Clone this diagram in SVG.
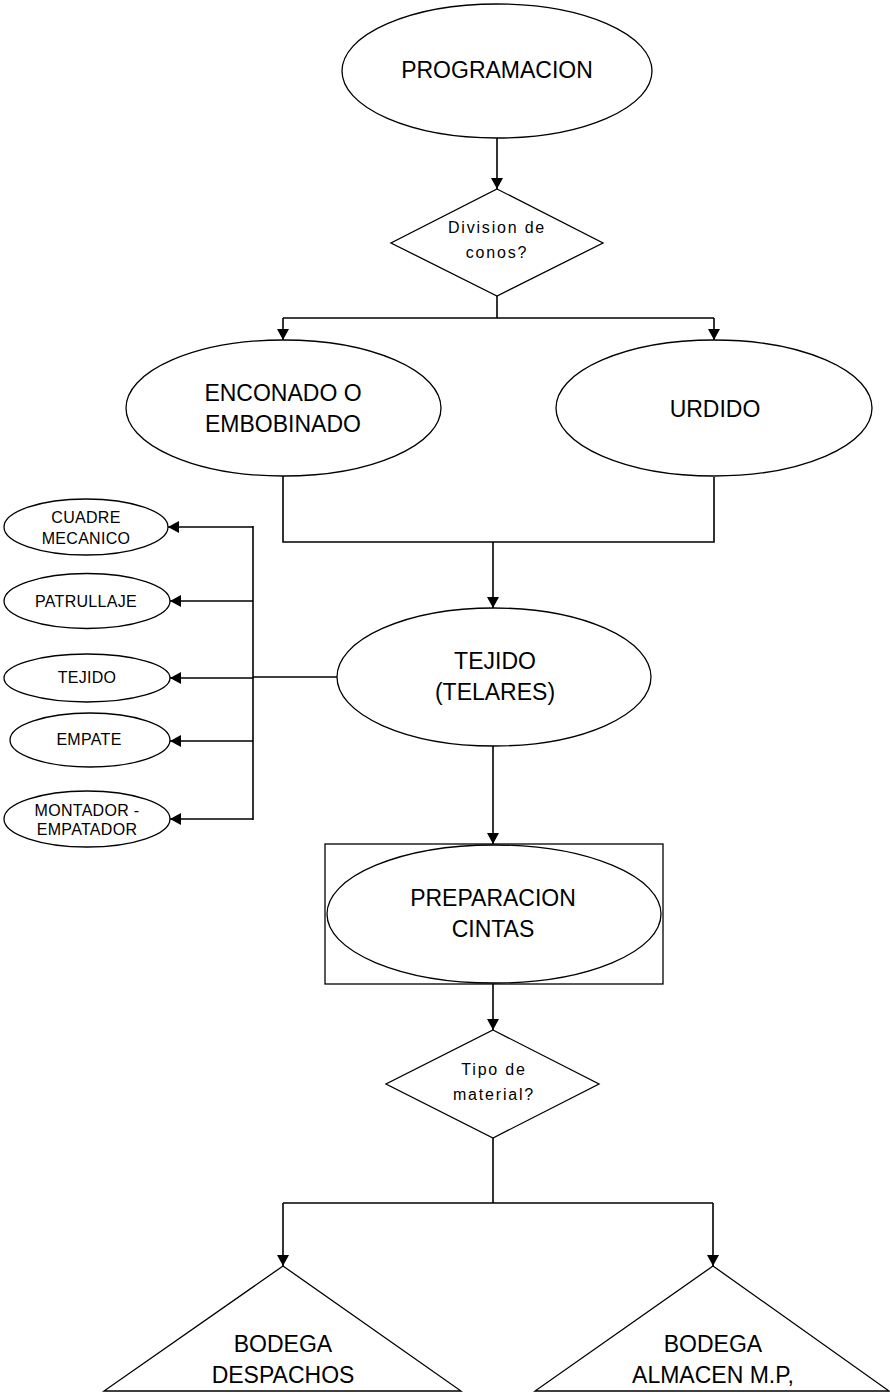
<svg xmlns="http://www.w3.org/2000/svg" width="890" height="1393" viewBox="0 0 890 1393">
  <style>
    .shape { fill: #ffffff; stroke: #000000; stroke-width: 1.3; }
    .conn { fill: none; stroke: #000000; stroke-width: 1.6; }
    .big { font-family: "Liberation Sans", Arial, sans-serif; font-size: 23px; fill: #000000; text-anchor: middle; }
    .mid { font-family: "Liberation Sans", Arial, sans-serif; font-size: 16px; letter-spacing: 1.8px; fill: #000000; text-anchor: middle; }
    .small { font-family: "Liberation Sans", Arial, sans-serif; font-size: 16px; letter-spacing: 0.3px; fill: #000000; text-anchor: middle; }
  </style>
  <defs>
    <marker id="arrow" markerUnits="userSpaceOnUse" markerWidth="14" markerHeight="14" refX="11" refY="6" orient="auto">
      <path d="M0,0 L11,6 L0,12 Z" fill="#000000"/>
    </marker>
  </defs>
  <rect width="890" height="1393" fill="#ffffff"/>

  <!-- connectors -->
  <g id="connectors">
    <line class="conn" x1="497" y1="138" x2="497" y2="189" marker-end="url(#arrow)"/>
    <polyline class="conn" points="497,296 497,318"/>
    <polyline class="conn" points="283,318 714,318"/>
    <line class="conn" x1="283" y1="318" x2="283" y2="340" marker-end="url(#arrow)"/>
    <line class="conn" x1="714" y1="318" x2="714" y2="340" marker-end="url(#arrow)"/>
    <polyline class="conn" points="283,476 283,542 714,542 714,477"/>
    <line class="conn" x1="493" y1="542" x2="493" y2="608" marker-end="url(#arrow)"/>
    <polyline class="conn" points="337,677 253,677"/>
    <polyline class="conn" points="253,526 253,820"/>
    <line class="conn" x1="253" y1="527" x2="168" y2="527" marker-end="url(#arrow)"/>
    <line class="conn" x1="253" y1="601" x2="170" y2="601" marker-end="url(#arrow)"/>
    <line class="conn" x1="253" y1="678" x2="170" y2="678" marker-end="url(#arrow)"/>
    <line class="conn" x1="253" y1="741" x2="170" y2="741" marker-end="url(#arrow)"/>
    <line class="conn" x1="253" y1="819" x2="170" y2="819" marker-end="url(#arrow)"/>
    <line class="conn" x1="493" y1="746" x2="493" y2="844" marker-end="url(#arrow)"/>
    <line class="conn" x1="493" y1="984" x2="493" y2="1030" marker-end="url(#arrow)"/>
    <polyline class="conn" points="493,1138 493,1203"/>
    <polyline class="conn" points="283,1203 713,1203"/>
    <line class="conn" x1="283" y1="1203" x2="283" y2="1266" marker-end="url(#arrow)"/>
    <line class="conn" x1="713" y1="1203" x2="713" y2="1266" marker-end="url(#arrow)"/>
  </g>

  <g id="programacion">
    <ellipse class="shape" cx="497" cy="71" rx="155" ry="67"/>
    <text class="big" x="497" y="78">PROGRAMACION</text>
  </g>

  <g id="division-conos">
    <polygon class="shape" points="497,189 603,243 497,296 391,243"/>
    <text class="mid" x="497" y="233">Division de</text>
    <text class="mid" x="497" y="258">conos?</text>
  </g>

  <g id="enconado">
    <ellipse class="shape" cx="283.5" cy="408" rx="157.5" ry="68"/>
    <text class="big" x="283" y="401">ENCONADO O</text>
    <text class="big" x="283" y="432">EMBOBINADO</text>
  </g>

  <g id="urdido">
    <ellipse class="shape" cx="714" cy="408" rx="158" ry="68"/>
    <text class="big" x="715" y="417">URDIDO</text>
  </g>

  <g id="tejido-telares">
    <ellipse class="shape" cx="494" cy="677" rx="157" ry="69"/>
    <text class="big" x="495" y="669">TEJIDO</text>
    <text class="big" x="495" y="700">(TELARES)</text>
  </g>

  <g id="cuadre-mecanico">
    <ellipse class="shape" cx="86" cy="527" rx="82" ry="28"/>
    <text class="small" x="86" y="523">CUADRE</text>
    <text class="small" x="86" y="544">MECANICO</text>
  </g>

  <g id="patrullaje">
    <ellipse class="shape" cx="87" cy="601" rx="83" ry="27.5"/>
    <text class="small" x="86" y="607">PATRULLAJE</text>
  </g>

  <g id="tejido">
    <ellipse class="shape" cx="87" cy="678" rx="83" ry="24"/>
    <text class="small" x="87" y="683">TEJIDO</text>
  </g>

  <g id="empate">
    <ellipse class="shape" cx="90" cy="740" rx="80" ry="27"/>
    <text class="small" x="89" y="745">EMPATE</text>
  </g>

  <g id="montador-empatador">
    <ellipse class="shape" cx="87" cy="819" rx="83" ry="28"/>
    <text class="small" x="87" y="816">MONTADOR -</text>
    <text class="small" x="87" y="835">EMPATADOR</text>
  </g>

  <g id="preparacion-cintas">
    <rect class="shape" x="325" y="844" width="338" height="140"/>
    <ellipse class="shape" cx="494" cy="914" rx="167" ry="69"/>
    <text class="big" x="493" y="906">PREPARACION</text>
    <text class="big" x="493" y="937">CINTAS</text>
  </g>

  <g id="tipo-material">
    <polygon class="shape" points="493,1030 599,1084 493,1138 386,1084"/>
    <text class="mid" x="494" y="1075">Tipo de</text>
    <text class="mid" x="494" y="1100">material?</text>
  </g>

  <g id="bodega-despachos">
    <polygon class="shape" points="283,1266 461,1391 104,1391"/>
    <text class="big" x="283" y="1352">BODEGA</text>
    <text class="big" x="283" y="1383">DESPACHOS</text>
  </g>

  <g id="bodega-almacen">
    <polygon class="shape" points="713,1266 889,1391 535,1391"/>
    <text class="big" x="713" y="1352">BODEGA</text>
    <text class="big" x="713" y="1383">ALMACEN M.P,</text>
  </g>
</svg>
